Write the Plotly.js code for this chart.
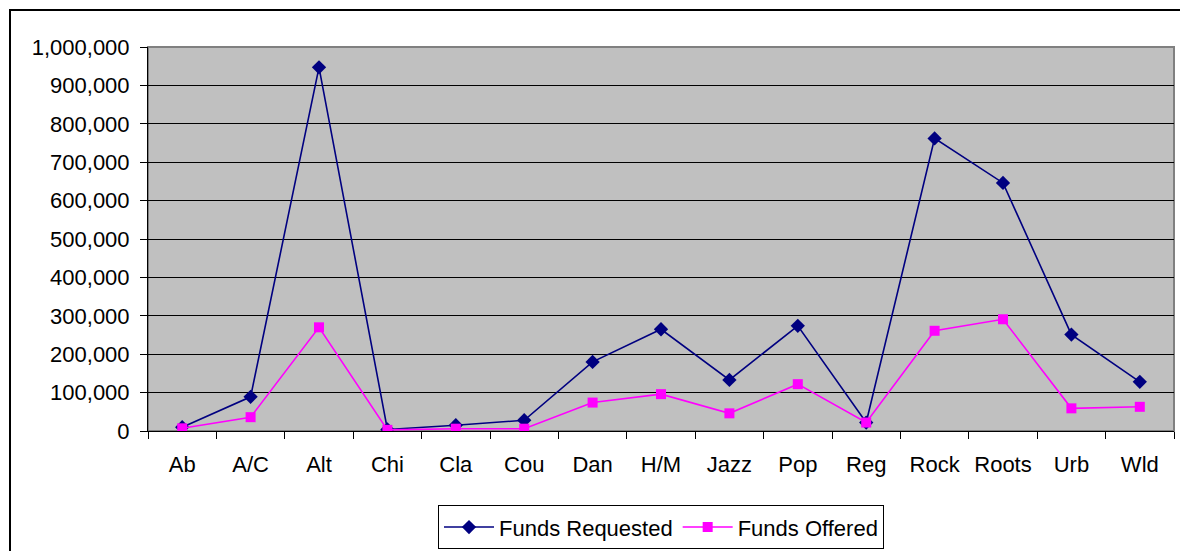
<!DOCTYPE html>
<html>
<head>
<meta charset="utf-8">
<script src="https://cdn.plot.ly/plotly-3.0.1.min.js"></script>
<style>
html,body{margin:0;padding:0;overflow:hidden;background:#fff;}
#frame{position:absolute;left:9px;top:9px;width:1300px;height:700px;border:2px solid #000;pointer-events:none;box-sizing:border-box;}
#chart{position:absolute;left:0;top:0;width:1180px;height:551px;}
</style>
</head>
<body>
<div id="chart"></div>
<div id="frame"></div>
<script>
const categories = ["Ab","A/C","Alt","Chi","Cla","Cou","Dan","H/M","Jazz","Pop","Reg","Rock","Roots","Urb","Wld"];
const fundsRequested = [10000, 89000, 947000, 4000, 15000, 28000, 180000, 265000, 133000, 274000, 22000, 762000, 646000, 251000, 128000];
const fundsOffered = [7000, 36000, 270000, 3000, 6000, 6000, 74000, 96000, 46000, 122000, 22000, 261000, 291000, 59000, 63000];
const yTicks = [0,100000,200000,300000,400000,500000,600000,700000,800000,900000,1000000];

const fontFam = 'Arial, "Liberation Sans", sans-serif';

const traces = [
  {
    x: categories, y: fundsRequested, name: "Funds Requested",
    type: "scatter", mode: "lines+markers",
    line: {color: "#000080", width: 1.6},
    marker: {symbol: "diamond", size: 11, color: "#000080"}
  },
  {
    x: categories, y: fundsOffered, name: "Funds Offered",
    type: "scatter", mode: "lines+markers",
    line: {color: "#FF00FF", width: 1.6},
    marker: {symbol: "square", size: 10, color: "#FF00FF"}
  }
];

const layout = {
  width: 1180, height: 551,
  margin: {l: 148, r: 6, t: 47, b: 120, pad: 0},
  paper_bgcolor: "#ffffff",
  plot_bgcolor: "#C0C0C0",
  font: {family: fontFam, size: 22, color: "#000"},
  showlegend: true,
  legend: {
    orientation: "h", x: 0.5, xanchor: "center",
    yref: "container", y: 0.083, yanchor: "top",
    bordercolor: "#000", borderwidth: 1, bgcolor: "#fff",
    font: {family: fontFam, size: 22, color: "#000"},
    itemwidth: 50,
    itemclick: false, traceorder: "normal"
  },
  xaxis: {
    type: "category",
    range: [-0.5, categories.length - 0.5],
    autorange: false,
    tickson: "boundaries",
    ticks: "outside", ticklen: 7, tickcolor: "#000", tickwidth: 1,
    showgrid: false, zeroline: false,
    showline: true, linecolor: "#000", linewidth: 1,
    mirror: false,
    tickfont: {family: fontFam, size: 22, color: "#000"},
    ticklabelstandoff: 14,
    automargin: false
  },
  yaxis: {
    range: [0, 1000000],
    autorange: false,
    tickvals: yTicks,
    tickformat: ",d",
    ticks: "outside", ticklen: 7, tickcolor: "#000", tickwidth: 1,
    showgrid: true, gridcolor: "#000", gridwidth: 1,
    zeroline: false,
    showline: true, linecolor: "#000", linewidth: 1,
    tickfont: {family: fontFam, size: 22, color: "#000"},
    ticklabelstandoff: 6,
    automargin: false
  },
  shapes: [
    {type: "rect", xref: "paper", yref: "paper", x0: 0, x1: 1, y0: 0, y1: 1,
     line: {color: "#808080", width: 2}, layer: "below", fillcolor: "rgba(0,0,0,0)"}
  ]
};

Plotly.newPlot("chart", traces, layout, {displayModeBar: false, staticPlot: true});
</script>
</body>
</html>
